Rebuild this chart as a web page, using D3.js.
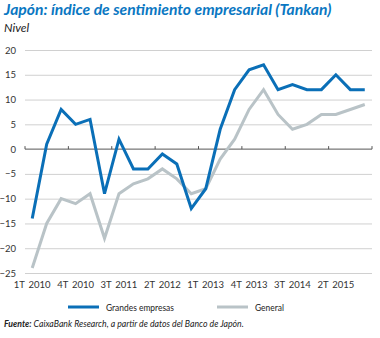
<!DOCTYPE html>
<html>
<head>
<meta charset="utf-8">
<script src="https://cdn.jsdelivr.net/npm/d3@7/dist/d3.min.js"></script>
<style>
  html, body { margin: 0; padding: 0; background: #fff; }
  svg { display: block; font-family: Lato, "Open Sans", sans-serif; }
</style>
</head>
<body>
<svg id="chart" width="380" height="338"></svg>
<script>
// Quarterly Tankan index, 1T 2010 – 4T 2015
const quarters = [
  "1T 2010","2T 2010","3T 2010","4T 2010",
  "1T 2011","2T 2011","3T 2011","4T 2011",
  "1T 2012","2T 2012","3T 2012","4T 2012",
  "1T 2013","2T 2013","3T 2013","4T 2013",
  "1T 2014","2T 2014","3T 2014","4T 2014",
  "1T 2015","2T 2015","3T 2015","4T 2015"
];
const grandesEmpresas = [-14, 1, 8, 5, 6, -9, 2, -4, -4, -1, -3, -12, -8, 4, 12, 16, 17, 12, 13, 12, 12, 15, 12, 12];
const general = [-24, -15, -10, -11, -9, -18, -9, -7, -6, -4, -6, -9, -8, -2, 2, 8, 12, 7, 4, 5, 7, 7, 8, 9];
const xTickLabels = ["1T 2010","4T 2010","3T 2011","2T 2012","1T 2013","4T 2013","3T 2014","2T 2015"];
const yTicks = [20, 15, 10, 5, 0, -5, -10, -15, -20, -25];

const blue = "#0a6fb7";
const grey = "#b9c3c7";

const svg = d3.select("#chart");

const plotLeft = 25, plotRight = 372, plotTop = 50, plotBottom = 273;

const x = d3.scaleBand().domain(quarters).range([plotLeft, plotRight]).padding(0);
const y = d3.scaleLinear().domain([-25, 20]).range([plotBottom, plotTop]);

// Title and unit
svg.append("text")
  .attr("x", 4).attr("y", 15)
  .attr("fill", "#0a77c2")
  .attr("font-size", 15.7).attr("font-weight", "bold").attr("font-style", "italic")
  .text("Japón: índice de sentimiento empresarial (Tankan)");
svg.append("text")
  .attr("x", 4).attr("y", 32)
  .attr("fill", "#222")
  .attr("font-size", 12).attr("font-style", "italic")
  .text("Nivel");

// Horizontal gridlines and y labels
const yAxis = d3.axisLeft(y).tickValues(yTicks).tickSize(plotLeft - plotRight).tickPadding(9);
const gy = svg.append("g").attr("transform", `translate(${plotLeft},0)`).call(yAxis);
gy.select(".domain").remove();
gy.selectAll(".tick line").attr("stroke", d => d === 0 ? "none" : "#d0d0d0").attr("stroke-width", 1);
gy.selectAll(".tick text")
  .attr("x", -9)
  .attr("fill", "#333").attr("font-size", 9.5)
  .style("font-family", "Lato, sans-serif");

// Zero baseline with quarter-group ticks
const tickBounds = d3.range(0, quarters.length + 1, 3).map(i => plotLeft + i * x.step());
svg.append("line")
  .attr("x1", plotLeft).attr("x2", plotRight)
  .attr("y1", y(0)).attr("y2", y(0))
  .attr("stroke", "#555").attr("stroke-width", 1);
svg.selectAll(".qtick").data(tickBounds).join("line")
  .attr("class", "qtick")
  .attr("x1", d => d).attr("x2", d => d)
  .attr("y1", y(0) - 3).attr("y2", y(0))
  .attr("stroke", "#555").attr("stroke-width", 1);

// X labels
const xAxis = d3.axisBottom(x).tickValues(xTickLabels).tickSize(0).tickPadding(0);
const gx = svg.append("g").attr("transform", `translate(0,${plotBottom + 8})`).call(xAxis);
gx.select(".domain").remove();
gx.selectAll(".tick text")
  .attr("dy", "0.71em")
  .attr("fill", "#333").attr("font-size", 9.5)
  .style("font-family", "Lato, sans-serif")
  .style("word-spacing", "1.5px");

// Lines
const line = d3.line()
  .x((d, i) => x(quarters[i]) + x.bandwidth() / 2)
  .y(d => y(d));

svg.append("path").datum(general)
  .attr("fill", "none").attr("stroke", grey).attr("stroke-width", 3)
  .attr("stroke-linejoin", "miter").attr("d", line);
svg.append("path").datum(grandesEmpresas)
  .attr("fill", "none").attr("stroke", blue).attr("stroke-width", 3)
  .attr("stroke-linejoin", "miter").attr("d", line);

// Legend
const legend = [
  { name: "Grandes empresas", color: blue, x: 68 },
  { name: "General", color: grey, x: 217 }
];
const lg = svg.selectAll(".legend").data(legend).join("g")
  .attr("class", "legend")
  .attr("transform", d => `translate(${d.x},307)`);
lg.append("line").attr("x1", 0).attr("x2", 31).attr("y1", 0).attr("y2", 0)
  .attr("stroke", d => d.color).attr("stroke-width", 3);
lg.append("text")
  .attr("transform", "translate(38,3.5) scale(0.87,1)")
  .attr("fill", "#222").attr("font-size", 9.7)
  .text(d => d.name);

// Source note
const src = svg.append("text")
  .attr("transform", "translate(4,327) scale(0.92,1)")
  .attr("fill", "#222").attr("font-size", 9.5).attr("font-style", "italic");
src.append("tspan").attr("font-weight", "bold").text("Fuente:");
src.append("tspan").text(" CaixaBank Research, a partir de datos del Banco de Japón.");
</script>
</body>
</html>
